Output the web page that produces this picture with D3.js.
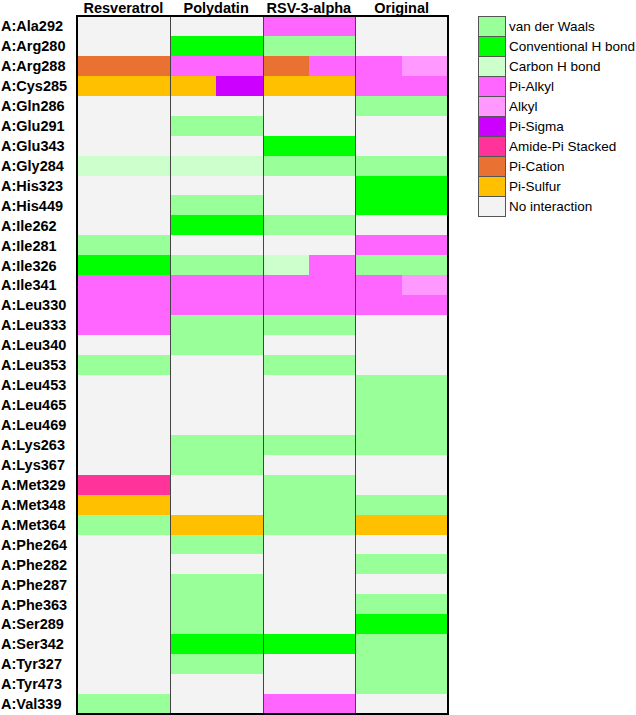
<html>
<head>
<script src="https://cdn.jsdelivr.net/npm/d3@7"></script>
<style>
  body { margin: 0; background: #fff; }
  svg { font-family: "Liberation Sans", Arial, sans-serif; }
  .lab { font-weight: bold; font-size: 14.5px; }
  .hdr { font-weight: bold; font-size: 14.5px; }
  .leg { font-size: 13.5px; }
</style>
</head>
<body>
<div id="container"></div>
<script>
// ligand columns
var ligands = ["Resveratrol", "Polydatin", "RSV-3-alpha", "Original"];

// residue rows
var residues = ["A:Ala292","A:Arg280","A:Arg288","A:Cys285","A:Gln286","A:Glu291","A:Glu343",
  "A:Gly284","A:His323","A:His449","A:Ile262","A:Ile281","A:Ile326","A:Ile341","A:Leu330",
  "A:Leu333","A:Leu340","A:Leu353","A:Leu453","A:Leu465","A:Leu469","A:Lys263","A:Lys367",
  "A:Met329","A:Met348","A:Met364","A:Phe264","A:Phe282","A:Phe287","A:Phe363","A:Ser289",
  "A:Ser342","A:Tyr327","A:Tyr473","A:Val339"];

// interaction types (legend order)
var types = ["van der Waals","Conventional H bond","Carbon H bond","Pi-Alkyl","Alkyl",
  "Pi-Sigma","Amide-Pi Stacked","Pi-Cation","Pi-Sulfur","No interaction"];
var codes = ["V","H","C","P","A","S","M","K","U","N"];
var colors = ["#99ff99","#00ff00","#ccffcc","#ff66ff","#ff99ff",
  "#cc00ff","#ff3399","#e97132","#ffc000","#f3f3f3"];

// one row per residue, one code per ligand; "X/Y" = cell shared by two interactions
var interactions = [
  ["N","N","P","N"],
  ["N","H","V","N"],
  ["K","P","K/P","P/A"],
  ["U","U/S","U","P"],
  ["N","N","N","V"],
  ["N","V","N","N"],
  ["N","N","H","N"],
  ["C","C","V","V"],
  ["N","N","N","H"],
  ["N","V","N","H"],
  ["N","H","V","N"],
  ["V","N","N","P"],
  ["H","V","C/P","V"],
  ["P","P","P","P/A"],
  ["P","P","P","P"],
  ["P","V","V","N"],
  ["N","V","N","N"],
  ["V","N","V","N"],
  ["N","N","N","V"],
  ["N","N","N","V"],
  ["N","N","N","V"],
  ["N","V","V","V"],
  ["N","V","N","N"],
  ["M","N","V","N"],
  ["U","N","V","V"],
  ["V","U","V","U"],
  ["N","V","N","N"],
  ["N","N","N","V"],
  ["N","V","N","N"],
  ["N","V","N","V"],
  ["N","V","N","H"],
  ["N","H","H","V"],
  ["N","V","N","V"],
  ["N","N","N","V"],
  ["V","N","P","N"]
];

var W = 636, H = 715;
var svg = d3.select("#container").append("svg")
  .attr("width", W).attr("height", H);

var x = d3.scaleBand().domain(ligands).range([77, 448]);
var y = d3.scaleBand().domain(residues).range([16, 714]);
var color = d3.scaleOrdinal().domain(codes).range(colors);

var cells = [];
interactions.forEach(function(row, i){
  row.forEach(function(c, j){
    var parts = c.split("/");
    parts.forEach(function(p, k){
      cells.push({res: residues[i], lig: ligands[j], code: p, k: k, n: parts.length});
    });
  });
});

var plot = svg.append("g");
plot.selectAll("rect.cell").data(cells).enter().append("rect")
  .attr("class", "cell")
  .attr("x", function(d){ return x(d.lig) + d.k * x.bandwidth() / d.n; })
  .attr("y", function(d){ return y(d.res); })
  .attr("width", function(d){ return x.bandwidth() / d.n; })
  .attr("height", y.bandwidth())
  .attr("fill", function(d){ return color(d.code); })
  .attr("shape-rendering", "crispEdges");

// column separators
plot.selectAll("line.sep").data(ligands.slice(1)).enter().append("line")
  .attr("x1", function(d){ return Math.round(x(d)) + 0.5; })
  .attr("x2", function(d){ return Math.round(x(d)) + 0.5; })
  .attr("y1", y.range()[0]).attr("y2", y.range()[1])
  .attr("stroke", "#444").attr("stroke-width", 1);

plot.append("rect")
  .attr("x", x.range()[0]).attr("y", y.range()[0])
  .attr("width", x.range()[1] - x.range()[0])
  .attr("height", y.range()[1] - y.range()[0])
  .attr("fill", "none").attr("stroke", "#000").attr("stroke-width", 2);

// column headers
svg.selectAll("text.hdr").data(ligands).enter().append("text")
  .attr("class", "hdr")
  .attr("x", function(d){ return x(d) + x.bandwidth() / 2; })
  .attr("y", 12.5)
  .attr("text-anchor", "middle")
  .text(function(d){ return d; });

// row labels
svg.selectAll("text.lab").data(residues).enter().append("text")
  .attr("class", "lab")
  .attr("x", 1)
  .attr("y", function(d){ return y(d) + y.bandwidth() / 2; })
  .attr("dy", "0.36em")
  .text(function(d){ return d; });

// legend
var ly = d3.scaleBand().domain(types).range([16, 216]);
var leg = svg.append("g");
leg.selectAll("rect").data(types).enter().append("rect")
  .attr("x", 478.5)
  .attr("y", function(d){ return ly(d) + 0.5; })
  .attr("width", 27).attr("height", ly.bandwidth())
  .attr("fill", function(d, i){ return colors[i]; })
  .attr("stroke", "#555").attr("stroke-width", 1);
leg.selectAll("text").data(types).enter().append("text")
  .attr("class", "leg")
  .attr("x", 509)
  .attr("y", function(d){ return ly(d) + ly.bandwidth() / 2; })
  .attr("dy", "0.36em")
  .text(function(d){ return d; });
</script>
</body>
</html>
